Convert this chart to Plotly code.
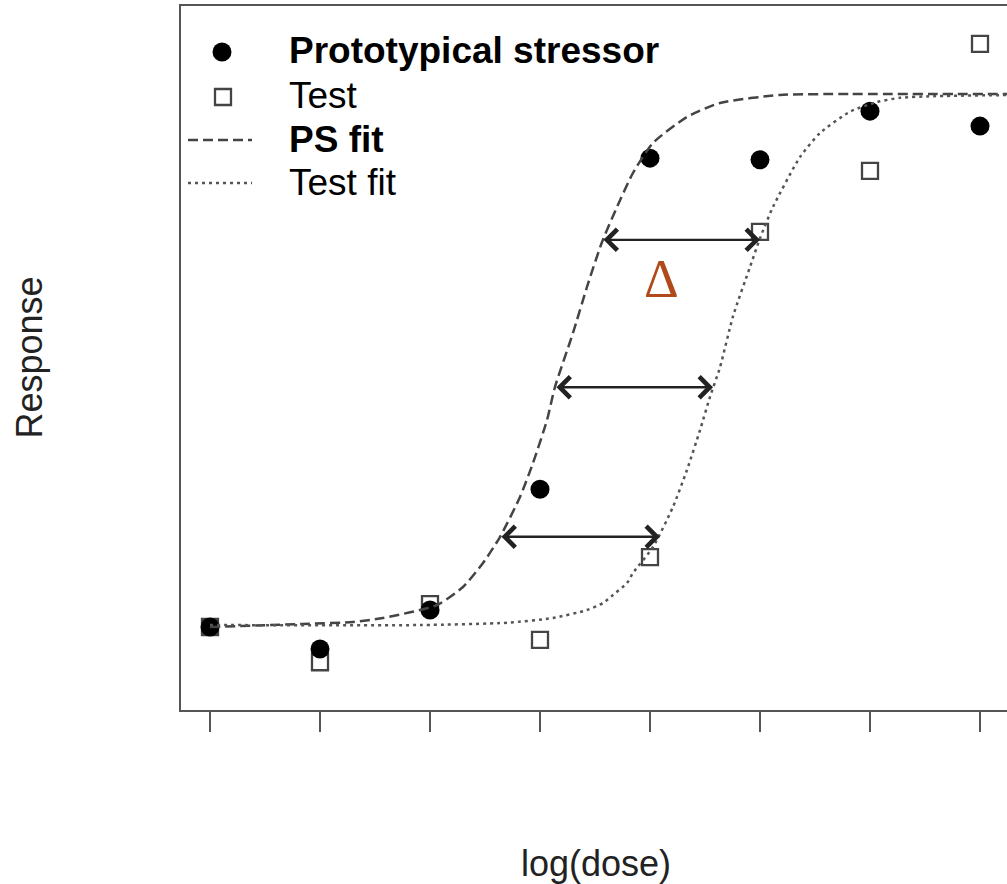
import plotly.graph_objects as go

# ---------------- data ----------------
dose = [1, 2, 3, 4, 5, 6, 7, 8]
ps_response = [0.0, -4.1, 3.2, 25.8, 87.8, 87.5, 96.6, 93.8]
test_response = [0.0, -6.6, 4.3, -2.4, 13.1, 74.0, 85.4, 109.2]

ps_fit_x = [1.0, 1.845, 2.30, 2.573, 3.064, 3.30, 3.482, 3.636, 3.818, 3.936, 4.064, 4.136,
            4.30, 4.427, 4.564, 4.70, 4.845, 5.027, 5.336, 5.636, 6.182, 6.818, 8.30]
ps_fit_y = [0.0, 0.56, 0.94, 1.69, 4.12, 7.49, 11.99, 16.85, 24.34, 30.71, 38.76, 44.94,
            55.06, 63.67, 72.10, 78.65, 85.02, 90.64, 95.51, 98.13, 99.63, 99.81, 99.81]

test_fit_x = [1.0, 2.909, 3.70, 4.118, 4.427, 4.573, 4.664, 4.791, 4.845, 5.027, 5.209, 5.336, 5.455,
              5.545, 5.636, 5.755, 5.909, 6.0, 6.118, 6.364, 6.545, 6.818, 7.064, 7.273, 7.573, 8.30]
test_fit_y = [0.37, 0.37, 0.8, 1.69, 3.18, 4.49, 6.0, 8.24, 10.11, 14.98, 22.5, 29.40, 36.89,
              43.07, 48.6, 58.2, 67.42, 72.8, 78.65, 88.01, 92.5, 96.5, 98.3, 99.1, 99.4, 99.63]

# horizontal shift arrows: response level, PS-fit dose, Test-fit dose
arrow_y = [72.5, 44.9, 16.9]
arrow_x_ps = [4.564, 4.136, 3.636]
arrow_x_test = [6.0, 5.573, 5.091]

legend_labels = ["<b>Prototypical stressor</b>", "Test", "<b>PS fit</b>", "Test fit"]

# ---------------- layout geometry ----------------
W, H = 1007, 884
ML, MT, MB, MR = 181, 6, 174, 0
PW, PH = W - ML - MR, H - MT - MB
X_RANGE = [0.7364, 8.2455]
Y_RANGE = [-15.54, 116.29]
FONT = "Arial, Liberation Sans, Helvetica, sans-serif"
GREY = "#555555"


def px(xp):
    return (xp - ML) / PW


def py(yp):
    return (H - MB - yp) / PH


fig = go.Figure()

fig.add_trace(go.Scatter(
    x=dose, y=test_response, mode="markers", showlegend=False,
    marker=dict(symbol="square-open", size=16, color="#444444", line=dict(width=2.3, color="#444444")),
))
fig.add_trace(go.Scatter(
    x=dose, y=ps_response, mode="markers", showlegend=False,
    marker=dict(symbol="circle", size=19, color="black", line=dict(width=0)),
))
fig.add_trace(go.Scatter(
    x=ps_fit_x, y=ps_fit_y, mode="lines", showlegend=False,
    line=dict(color="#444444", width=2.5, dash="10px,5px", shape="spline", smoothing=0.6),
))
fig.add_trace(go.Scatter(
    x=test_fit_x, y=test_fit_y, mode="lines", showlegend=False,
    line=dict(color="#555555", width=2.5, dash="3px,4px", shape="spline", smoothing=0.6),
))

annotations = []
for yv, x0, x1 in zip(arrow_y, arrow_x_ps, arrow_x_test):
    annotations.append(dict(
        x=x1, y=yv, ax=x0, ay=yv, xref="x", yref="y", axref="x", ayref="y",
        text="", showarrow=True, arrowside="end+start",
        arrowhead=4, startarrowhead=4, arrowsize=1.7, startarrowsize=1.7,
        arrowwidth=2.4, arrowcolor="#222222", standoff=0, startstandoff=0,
    ))

annotations.append(dict(
    x=5.109, y=65.2, xref="x", yref="y", text="Δ", showarrow=False,
    font=dict(family="Liberation Serif, Times New Roman, serif", size=54, color="#B04A1A"),
    xanchor="center", yanchor="middle",
))

legend_centers = [50.4, 95.4, 139.4, 182.4]
for lab, yc in zip(legend_labels, legend_centers):
    annotations.append(dict(
        x=px(287), y=py(yc), xref="paper", yref="paper", text=lab, showarrow=False,
        xanchor="left", yanchor="middle", font=dict(family=FONT, size=37, color="black"),
    ))

annotations.append(dict(
    x=px(596), y=py(863.4), xref="paper", yref="paper", text="log(dose)", showarrow=False,
    xanchor="center", yanchor="middle", font=dict(family=FONT, size=36, color="#222222"),
))
annotations.append(dict(
    x=px(28.5), y=py(358), xref="paper", yref="paper", text="Response", showarrow=False,
    textangle=-90, xanchor="center", yanchor="middle", font=dict(family=FONT, size=36, color="#222222"),
))

shapes = [
    dict(type="circle", xref="paper", yref="paper", x0=px(212.5), x1=px(231.5), y0=py(42.5), y1=py(61.5),
         fillcolor="black", line=dict(width=0)),
    dict(type="rect", xref="paper", yref="paper", x0=px(215), x1=px(231), y0=py(89), y1=py(105),
         fillcolor="rgba(0,0,0,0)", line=dict(width=2.3, color="#444444")),
    dict(type="line", xref="paper", yref="paper", x0=px(188), x1=px(252), y0=py(140), y1=py(140),
         line=dict(width=2.5, color="#444444", dash="10px,5px")),
    dict(type="line", xref="paper", yref="paper", x0=px(188), x1=px(252), y0=py(183), y1=py(183),
         line=dict(width=2.5, color="#555555", dash="3px,4px")),
]

fig.update_layout(
    width=W, height=H,
    margin=dict(l=ML, r=MR, t=MT, b=MB, pad=0),
    paper_bgcolor="white", plot_bgcolor="white",
    showlegend=False,
    annotations=annotations,
    shapes=shapes,
    xaxis=dict(
        range=X_RANGE, showgrid=False, zeroline=False,
        showline=True, linecolor=GREY, linewidth=2, mirror=True,
        tickmode="array", tickvals=dose, showticklabels=False,
        ticks="outside", ticklen=20, tickwidth=2, tickcolor=GREY,
    ),
    yaxis=dict(
        range=Y_RANGE, showgrid=False, zeroline=False,
        showline=True, linecolor=GREY, linewidth=2, mirror=False,
        showticklabels=False, ticks="",
    ),
)

fig.write_html("out.html")
